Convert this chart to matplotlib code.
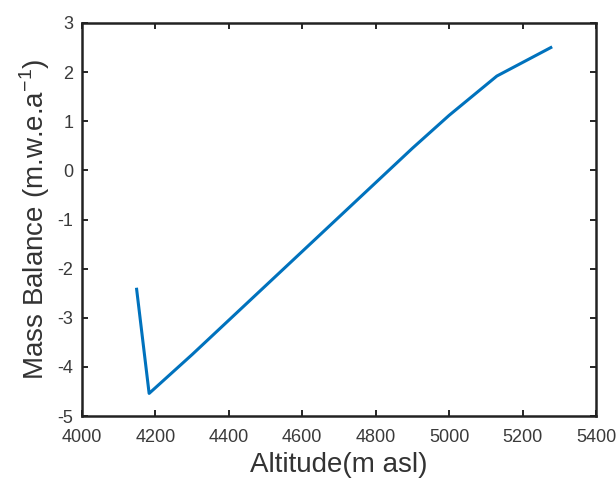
import matplotlib
matplotlib.use("Agg")
import matplotlib.pyplot as plt

# Altitude (m asl) and mass balance (m w.e. a^-1)
altitude = [4149, 4183, 4300, 4400, 4500, 4600, 4700, 4800, 4900, 5000, 5130, 5277]
mass_balance = [-2.42, -4.54, -3.75, -3.05, -2.35, -1.65, -0.95, -0.25, 0.45, 1.12, 1.92, 2.50]

x_ticks = [4000, 4200, 4400, 4600, 4800, 5000, 5200, 5400]
y_ticks = [-5, -4, -3, -2, -1, 0, 1, 2, 3]

plt.rcParams["font.family"] = ["Liberation Sans", "DejaVu Sans"]
plt.rcParams["axes.unicode_minus"] = False

fig = plt.figure(figsize=(6.16, 4.79), dpi=100)
ax = fig.add_axes([0.133, 0.1315, 0.8345, 0.8205])

ax.plot(altitude, mass_balance, color="#0072BD", linewidth=2.2)

ax.set_xlim(4000, 5400)
ax.set_ylim(-5, 3)
ax.set_xticks(x_ticks)
ax.set_yticks(y_ticks)
ax.tick_params(direction="in", top=True, right=True, length=4, width=1.2,
               labelsize=13, labelcolor="#3a3a3a")
ax.tick_params(axis="x", pad=9)
ax.tick_params(axis="y", pad=6)
for side in ax.spines.values():
    side.set_linewidth(1.8)
    side.set_color("#222222")

ax.set_xlabel("Altitude(m asl)", fontsize=20, color="#333333", labelpad=5)
ax.set_ylabel("Mass Balance (m.w.e.a$^{\\mathregular{-1}}$)", fontsize=20, color="#333333", labelpad=4)

fig.savefig("out.png", dpi=100)
